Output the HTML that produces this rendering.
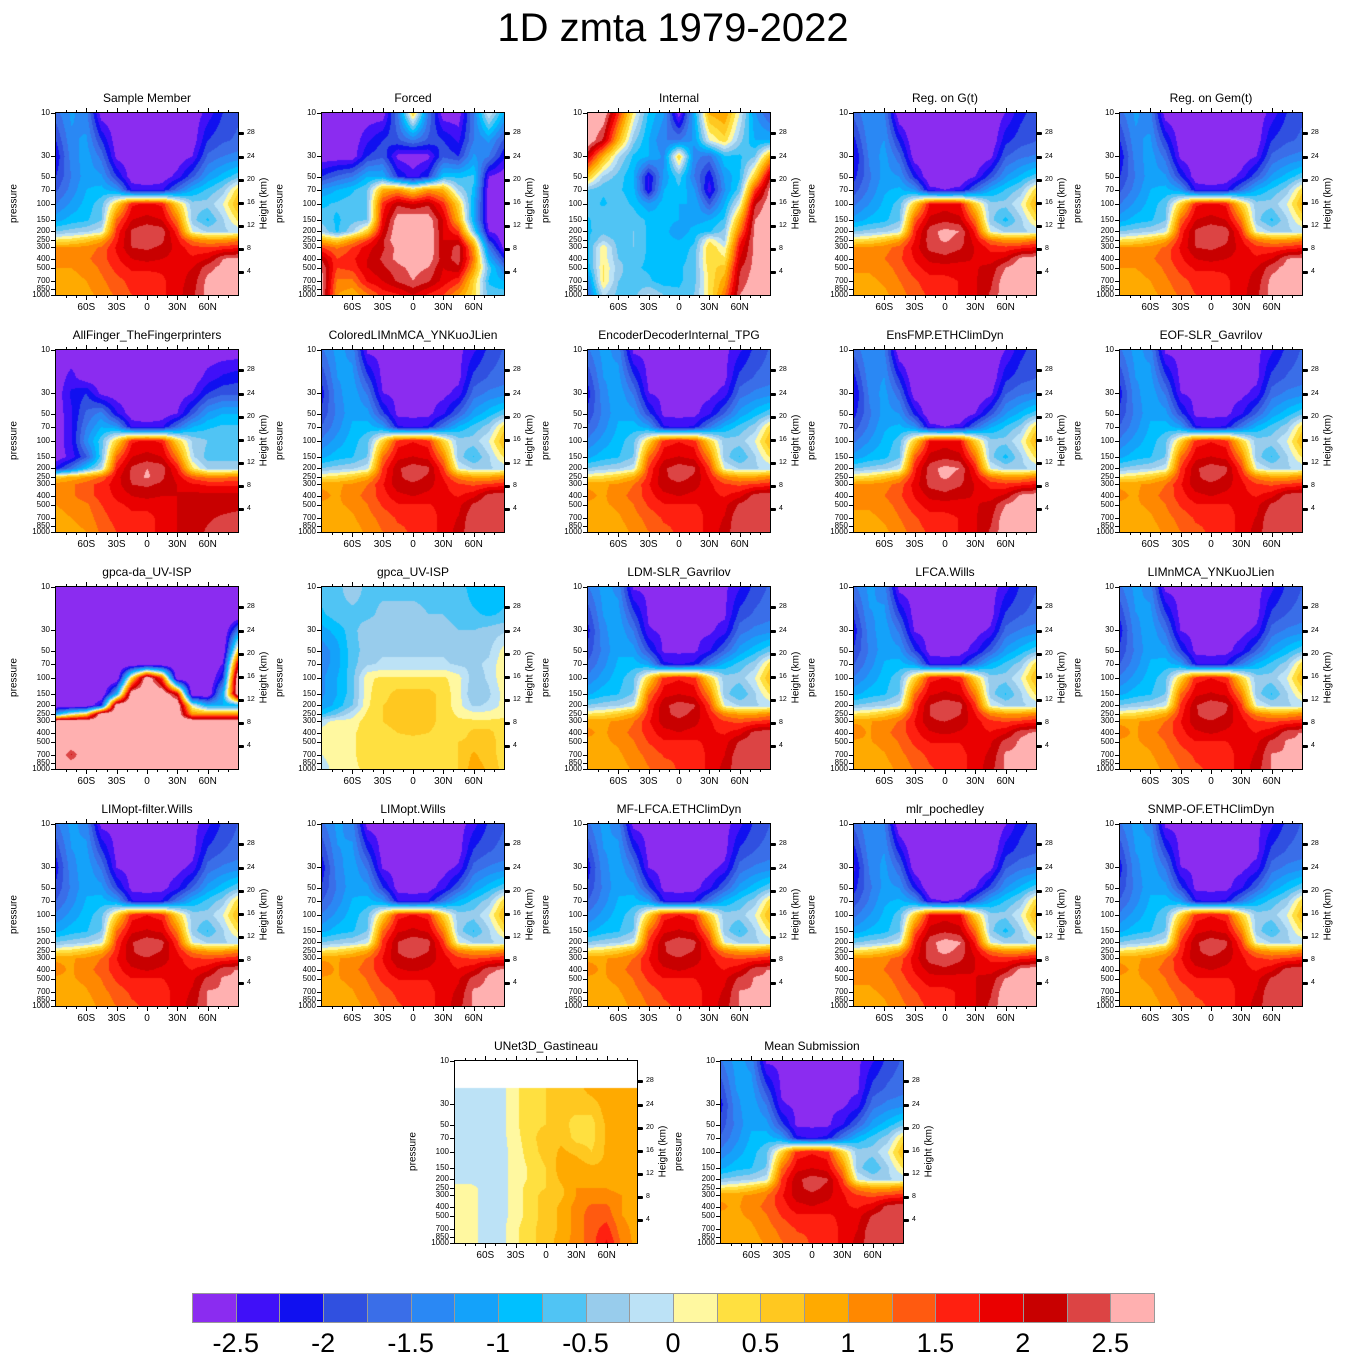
<!DOCTYPE html>
<html><head><meta charset="utf-8">
<style>
body{margin:0;background:#fff;width:1346px;height:1367px;position:relative;overflow:hidden;font-family:"Liberation Sans",sans-serif;}
#main-title{position:absolute;left:0;width:1346px;top:6px;text-align:center;font-size:40px;}
.panel{position:absolute;width:182px;height:182px;}
.panel canvas{position:absolute;left:0;top:0;}
.pt{position:absolute;top:-22px;left:-40px;width:262px;text-align:center;font-size:12px;}
.frame{position:absolute;left:-1px;top:-1px;width:182px;height:182px;border:1px solid #000;}
.lab{position:absolute;font-size:8px;white-space:nowrap;}
.xl{position:absolute;top:189px;font-size:10px;transform:translateX(-50%);}
.tk{position:absolute;background:#000;}
.yt{position:absolute;font-size:10px;transform:rotate(-90deg);transform-origin:center;white-space:nowrap;}
#colorbar{position:absolute;left:192px;top:1293px;width:962px;height:32px;}
.cb{position:absolute;top:0;height:30px;border:1px solid #999;box-sizing:border-box;}
.cbl{position:absolute;top:1328px;font-size:27px;transform:translateX(-50%);}
</style></head><body>
<div id="main-title">1D zmta 1979-2022</div>
<div id="root"></div>
<div id="colorbar"></div>
<script>
const colors=['#8b2cf0','#4010f8','#1010f0','#3050e0','#3a6ee8','#2a88f4','#14a2fa','#00c0ff','#50c4f4','#98ccec','#bce2f6','#fff8a0','#ffe040','#ffc820','#ffaa00','#ff8800','#ff5a10','#ff2010','#ea0000','#c80000','#dc4444','#ffb0b0'];
const cbLabels=['-2.5','-2','-1.5','-1','-0.5','0','0.5','1','1.5','2','2.5'];
const lats=[-90,-75,-60,-45,-30,-15,0,15,30,45,60,75,90];
const pres=[10,20,30,50,70,100,150,200,250,300,400,500,700,1000];
const typical=[
[-1.6,-1.2,-1.4,-2.7,-2.7,-2.7,-2.7,-2.7,-2.7,-2.7,-2.4,-2.0,-1.8],
[-2.0,-1.3,-1.2,-2.0,-2.7,-2.7,-2.7,-2.7,-2.7,-2.7,-2.0,-1.8,-1.7],
[-2.2,-1.4,-1.1,-1.6,-2.6,-2.7,-2.7,-2.7,-2.7,-2.5,-1.7,-1.5,-1.4],
[-2.0,-1.5,-1.1,-1.2,-2.0,-2.7,-2.7,-2.7,-2.4,-1.8,-1.2,-0.9,-0.6],
[-1.8,-1.4,-1.0,-0.9,-1.2,-2.3,-2.4,-2.3,-1.6,-1.0,-0.7,-0.4,0.4],
[-1.5,-1.2,-0.9,-0.6,0.5,1.7,1.8,1.7,0.5,-0.4,-0.4,0.0,0.8],
[-1.1,-0.9,-0.8,-0.5,1.3,2.0,2.1,2.0,1.2,-0.4,-0.8,-0.3,0.3],
[-0.5,-0.4,-0.3,-0.1,1.6,2.3,2.5,2.4,1.6,0.0,-0.3,-0.3,-0.2],
[0.3,0.4,0.6,0.9,1.7,2.3,2.45,2.3,1.8,1.2,1.0,1.0,1.2],
[1.0,1.0,1.1,1.3,1.8,2.25,2.3,2.2,1.9,1.6,1.5,1.6,1.7],
[1.1,1.0,1.2,1.4,1.7,2.0,2.1,2.0,1.9,1.8,2.0,2.5,2.6],
[1.0,1.0,1.1,1.3,1.6,1.8,1.8,1.8,1.9,2.0,2.4,2.6,2.6],
[0.9,0.9,1.0,1.2,1.4,1.6,1.6,1.7,1.9,2.1,2.6,2.6,2.6],
[0.8,0.8,0.9,1.1,1.3,1.5,1.6,1.7,1.9,2.2,2.6,2.6,2.6]];
const allFinger=[
[-2.7,-2.7,-2.7,-2.7,-2.7,-2.7,-2.7,-2.7,-2.7,-2.7,-2.7,-2.7,-2.7],
[-2.7,-2.4,-2.7,-2.7,-2.7,-2.7,-2.7,-2.7,-2.7,-2.7,-2.4,-2.2,-2.1],
[-2.7,-2.2,-2.0,-2.6,-2.7,-2.7,-2.7,-2.7,-2.7,-2.5,-2.0,-1.8,-1.8],
[-2.7,-2.3,-1.7,-1.4,-2.2,-2.7,-2.7,-2.7,-2.5,-1.8,-1.2,-1.0,-1.0],
[-2.7,-2.3,-1.5,-1.0,-1.2,-2.3,-2.4,-2.3,-1.6,-1.0,-0.8,-0.7,-0.7],
[-2.7,-2.3,-1.3,-0.6,0.5,1.7,1.8,1.7,0.5,-0.3,-0.5,-0.5,-0.5],
[-2.7,-2.4,-1.8,-0.6,1.3,2.0,2.1,2.0,1.2,-0.2,-0.6,-0.6,-0.6],
[-2.2,-1.6,-0.8,-0.2,1.7,2.3,2.5,2.4,1.7,0.3,-0.3,-0.3,-0.3],
[0.6,0.8,1.0,1.3,1.9,2.3,2.55,2.3,1.9,1.4,1.2,1.2,1.3],
[1.1,1.2,1.4,1.6,1.9,2.25,2.3,2.2,2.0,1.8,1.7,1.7,1.7],
[1.1,1.2,1.4,1.6,1.8,2.0,2.1,2.0,2.0,2.1,2.1,2.1,2.1],
[1.0,1.1,1.2,1.5,1.7,1.8,1.8,1.8,2.0,2.1,2.1,2.1,2.1],
[0.9,1.0,1.1,1.4,1.6,1.7,1.7,1.8,2.0,2.1,2.2,2.3,2.4],
[0.9,0.9,1.0,1.3,1.5,1.6,1.7,1.8,2.0,2.1,2.3,2.5,2.5]];
const forced=[
[-2.7,-2.7,-2.7,-2.7,-2.7,-1.5,0.5,-1.5,-2.7,-2.7,-1.5,0.0,-1.0],
[-2.7,-2.7,-2.7,-2.3,-2.0,-1.8,-1.5,-1.8,-2.0,-2.3,-1.5,-1.2,-1.8],
[-2.7,-2.7,-2.7,-2.0,-1.8,-2.6,-2.7,-2.6,-1.8,-2.0,-1.2,-1.5,-2.2],
[-2.0,-1.7,-1.5,-1.0,-1.0,-2.0,-2.4,-2.0,-0.8,-0.8,-0.7,-2.5,-2.7],
[-1.2,-1.0,-0.8,-0.5,0.8,1.0,0.5,1.0,0.8,-0.3,-0.8,-2.7,-2.7],
[-0.8,-0.7,-0.6,-0.5,1.6,2.2,2.0,2.2,1.6,0.5,-1.0,-2.7,-2.7],
[-0.6,-0.8,-0.6,-0.5,1.8,2.7,2.8,2.7,2.0,0.8,-1.0,-2.7,-2.7],
[-0.3,-0.8,-0.3,0.5,2.0,2.8,2.9,2.8,2.0,1.5,-0.5,-2.5,-2.7],
[0.8,0.5,1.0,1.5,2.2,2.8,2.9,2.8,2.0,2.0,0.5,-2.0,-2.7],
[1.5,1.2,1.5,1.9,2.2,2.6,2.9,2.8,2.0,2.4,1.0,-1.5,-2.6],
[2.2,1.5,1.7,2.0,2.3,2.6,2.9,2.7,2.1,2.4,1.2,-1.0,-2.0],
[2.5,1.5,1.6,2.0,2.2,2.4,2.6,2.5,2.0,2.2,1.0,-0.6,-1.5],
[2.6,1.2,1.2,1.8,2.0,2.3,2.5,2.3,1.9,1.6,0.5,-0.8,-1.0],
[2.6,1.0,0.8,1.2,1.6,1.7,2.0,1.7,1.5,1.0,0.4,-0.6,-0.6]];
const internal=[
[2.8,2.8,1.6,0.2,-0.8,-1.2,-2.7,-1.0,0.8,1.0,0.0,-1.2,-1.8],
[2.8,2.2,0.8,-0.4,-1.0,-1.5,-1.5,-1.2,0.0,0.4,-0.4,-1.0,-1.0],
[2.0,0.8,-0.2,-0.8,-1.0,-1.3,0.5,-1.4,-1.6,-0.8,-0.8,-0.5,0.8],
[0.6,-0.3,-0.6,-1.0,-2.3,-1.2,-0.6,-1.5,-2.2,-1.2,-0.8,0.5,2.2],
[-0.5,-0.7,-0.7,-0.9,-2.3,-1.0,-0.8,-1.2,-2.4,-1.3,-0.6,1.5,2.6],
[-0.6,-0.8,-0.6,-0.8,-1.2,-0.9,-1.0,-1.0,-1.8,-1.0,0.0,2.2,2.7],
[-0.8,-0.5,-0.5,-0.6,-0.8,-0.9,-1.0,-1.1,-1.0,-0.7,0.8,2.5,2.8],
[-0.8,-0.6,-0.7,-0.5,-0.8,-0.9,-1.2,-0.9,-0.8,-0.4,1.2,2.6,2.8],
[-0.8,-0.3,-0.6,-0.5,-0.8,-0.9,-1.0,-0.8,0.2,-0.3,1.6,2.6,2.8],
[-0.8,0.2,-0.6,-0.5,-0.8,-0.8,-0.9,-0.7,0.5,0.0,1.8,2.6,2.8],
[-0.8,0.2,-0.5,-0.6,-0.8,-0.8,-0.9,-0.6,0.5,0.3,2.0,2.6,2.8],
[-0.9,0.3,-0.4,-0.7,-0.8,-0.9,-0.8,-0.6,0.4,0.6,2.2,2.6,2.8],
[-1.3,0.3,-0.5,-0.6,-0.7,-0.9,-0.8,-0.6,0.3,0.9,2.3,2.7,2.8],
[-1.6,-0.2,-0.6,-0.6,-0.2,-0.5,-0.7,-0.5,0.3,1.2,2.5,2.8,2.8]];
const gpcaDa=[
[-3,-3,-3,-3,-3,-3,-3,-3,-3,-3,-3,-3,-3],
[-3,-3,-3,-3,-3,-3,-3,-3,-3,-3,-3,-3,-3],
[-3,-3,-3,-3,-3,-3,-3,-3,-3,-3,-3,-3,-1.5],
[-3,-3,-3,-3,-3,-3,-3,-3,-3,-3,-3,-3,0.5],
[-3,-3,-3,-3,-3,-3,-3,-3,-3,-3,-3,-2.5,2],
[-3,-3,-3,-3,-3,0.5,3,1.5,-3,-3,-3,-2,3],
[-3,-3,-3,-3,-1,3,3,3,2,-3,-3,-1,3],
[-3,-3,-3,-2,3,3,3,3,3,0,-1,-1,-1],
[-1,0,0.5,3,3,3,3,3,3,1,1,1,1],
[3,3,3,3,3,3,3,3,3,3,3,3,3],
[3,3,3,3,3,3,3,3,3,3,3,3,3],
[3,3,3,3,3,3,3,3,3,3,3,3,3],
[3,2.2,3,3,3,3,3,3,3,3,3,3,3],
[3,3,3,3,3,3,3,3,3,3,3,3,3]];
const gpcaUV=[
[-0.6,-0.6,-0.3,-0.6,-0.6,-0.6,-0.6,-0.6,-0.6,-0.6,-0.9,-1.0,-0.9],
[-0.8,-0.6,-0.6,-0.6,-0.4,-0.4,-0.4,-0.5,-0.5,-0.6,-0.7,-0.8,-0.7],
[-1.1,-0.9,-0.6,-0.3,-0.3,-0.3,-0.3,-0.3,-0.4,-0.5,-0.5,-0.4,-0.3],
[-1.4,-1.1,-0.6,-0.4,-0.3,-0.3,-0.3,-0.3,-0.3,-0.4,-0.4,-0.3,0.1],
[-1.4,-1.1,-0.6,-0.3,-0.2,-0.2,-0.2,-0.2,-0.2,-0.3,-0.3,-0.2,0.2],
[-1.3,-1.0,-0.6,0.2,0.3,0.3,0.3,0.3,0.3,0.1,-0.4,-0.2,0.2],
[-1.3,-1.0,-0.6,0.2,0.4,0.6,0.6,0.6,0.4,0.1,-0.5,-0.3,0.1],
[-1.2,-0.9,-0.5,0.2,0.5,0.6,0.6,0.6,0.4,0.1,-0.3,-0.2,0.1],
[-0.8,-0.5,-0.1,0.3,0.5,0.6,0.6,0.6,0.4,0.2,0.1,0.1,0.2],
[-0.1,0.1,0.1,0.4,0.5,0.6,0.6,0.6,0.4,0.3,0.3,0.3,0.3],
[0.1,0.2,0.2,0.4,0.4,0.5,0.55,0.5,0.4,0.3,0.6,0.6,0.3],
[0.1,0.2,0.2,0.4,0.4,0.4,0.4,0.4,0.4,0.5,0.6,0.6,0.4],
[0.0,0.1,0.2,0.4,0.4,0.4,0.4,0.4,0.4,0.5,0.8,0.6,0.4],
[-0.1,0.1,0.2,0.3,0.4,0.4,0.4,0.4,0.4,0.5,0.9,0.7,0.4]];
const unet=[
[null,null,null,null,null,null,null,null,null,null,null,null,null],
[-0.1,-0.1,-0.1,-0.1,0.2,0.4,0.5,0.5,0.6,0.9,1.0,0.9,0.9],
[-0.1,-0.1,-0.1,-0.1,0.2,0.4,0.5,0.5,0.6,0.6,0.9,0.9,0.9],
[-0.1,-0.1,-0.1,-0.1,0.2,0.45,0.5,0.6,0.4,0.4,0.8,0.9,0.9],
[-0.1,-0.1,-0.1,-0.1,0.15,0.45,0.6,0.7,0.4,0.4,0.8,0.9,0.9],
[-0.1,-0.1,-0.1,-0.1,0.1,0.4,0.6,0.8,0.7,0.5,0.8,0.9,0.9],
[-0.1,-0.1,-0.1,-0.1,0.1,0.3,0.5,0.9,0.9,0.8,0.8,0.9,0.9],
[-0.1,-0.1,-0.1,-0.1,0.1,0.3,0.5,0.8,0.9,0.9,0.9,0.9,0.9],
[0.1,0.1,-0.1,-0.1,0.1,0.4,0.5,0.7,1.0,1.0,1.0,0.9,0.9],
[0.1,0.1,-0.1,-0.1,0.1,0.4,0.6,0.7,1.0,1.1,1.1,1.0,0.9],
[0.1,0.1,-0.1,-0.1,0.1,0.4,0.6,0.8,1.1,1.3,1.3,1.0,0.9],
[0.1,0.1,-0.1,-0.1,0.1,0.4,0.6,0.8,1.1,1.4,1.4,1.0,0.9],
[0.1,0.1,-0.1,-0.1,0.2,0.45,0.6,0.8,1.1,1.4,1.6,1.1,0.9],
[0.1,0.1,-0.1,-0.1,0.2,0.45,0.6,0.9,1.1,1.4,1.8,1.2,0.9]];
const panelNames=['Sample Member','Forced','Internal','Reg. on G(t)','Reg. on Gem(t)','AllFinger_TheFingerprinters','ColoredLIMnMCA_YNKuoJLien','EncoderDecoderInternal_TPG','EnsFMP.ETHClimDyn','EOF-SLR_Gavrilov','gpca-da_UV-ISP','gpca_UV-ISP','LDM-SLR_Gavrilov','LFCA.Wills','LIMnMCA_YNKuoJLien','LIMopt-filter.Wills','LIMopt.Wills','MF-LFCA.ETHClimDyn','mlr_pochedley','SNMP-OF.ETHClimDyn','UNet3D_Gastineau','Mean Submission'];
const panelFields=['typical','forced','internal','typical','typical','allFinger','typical','typical','typical','typical','gpcaDa','gpcaUV','typical','typical','typical','typical','typical','typical','typical','typical','unet','typical'];
const panelScale=[1,1,1,1.04,1,1,0.96,0.96,1.04,0.96,1,1,0.95,0.98,0.97,0.97,0.98,0.97,1.05,0.96,1,0.95];
const fields={typical,allFinger,forced,internal,gpcaDa,gpcaUV,unet};
const pTicks=[10,30,50,70,100,150,200,250,300,400,500,700,850,1000];
const zTicks=[4,8,12,16,20,24,28];
const latTicks=[-60,-30,0,30,60];
const latLabels=['60S','30S','0','30N','60N'];
const colX=[56,322,588,854,1120], rowY=[113,350,587,824];
const W=182,H=182;
function yOfP(p){return (Math.log10(p)-1)/2*H;}
function xOfLat(l){return (l+90)/180*W;}
const lps=pres.map(Math.log10);
function interp(f,lat,lp){
 let i=0;while(i<lats.length-2&&lat>lats[i+1])i++;
 let j=0;while(j<lps.length-2&&lp>lps[j+1])j++;
 const tx=Math.max(0,Math.min(1,(lat-lats[i])/(lats[i+1]-lats[i]))), ty=Math.max(0,Math.min(1,(lp-lps[j])/(lps[j+1]-lps[j])));
 const a=f[j][i],b=f[j][i+1],c=f[j+1][i],d=f[j+1][i+1];
 if(a===null||b===null) return null;
 return (a*(1-tx)+b*tx)*(1-ty)+(c*(1-tx)+d*tx)*ty;
}
function hexRgb(h){return [parseInt(h.substr(1,2),16),parseInt(h.substr(3,2),16),parseInt(h.substr(5,2),16)];}
const rgb=colors.map(hexRgb);
const root=document.getElementById('root');
panelNames.forEach((name,k)=>{
 let px,py;
 if(k<20){px=colX[k%5];py=rowY[Math.floor(k/5)];}else{px=[455,721][k-20];py=1061;}
 const slug=name.toLowerCase().replace(/[^a-z0-9]+/g,'-').replace(/^-|-$/g,'');
 const d=document.createElement('div');d.className='panel';d.style.left=px+'px';d.style.top=py+'px';
 
 
 const cv=document.createElement('canvas');cv.width=W;cv.height=H;
 
 
 const ctx=cv.getContext('2d');const img=ctx.createImageData(W,H);
 const f=fields[panelFields[k]], s=panelScale[k];
 for(let y=0;y<H;y++){const lp=1+2*(y+0.5)/H;
  for(let x=0;x<W;x++){const lat=-90+180*(x+0.5)/W;
   let v=interp(f,lat,lp);const o=(y*W+x)*4;
   if(v===null){img.data[o]=255;img.data[o+1]=255;img.data[o+2]=255;img.data[o+3]=255;continue;}
   v*=s;let ci=Math.floor((v+2.5)/0.25)+1;ci=Math.max(0,Math.min(21,ci));
   const c=rgb[ci];img.data[o]=c[0];img.data[o+1]=c[1];img.data[o+2]=c[2];img.data[o+3]=255;}}
 ctx.putImageData(img,0,0);d.appendChild(cv);
 const fr=document.createElement('div');fr.className='frame';
 
 
 d.appendChild(fr);
 const t=document.createElement('div');t.className='pt';t.textContent=name;
 
 
 d.appendChild(t);
 pTicks.forEach(p=>{const y=yOfP(p);
  const l=document.createElement('div');l.className='lab';l.textContent=p;
  l.style.right=(W+6)+'px';l.style.top=(y-5)+'px';
  
  
  d.appendChild(l);
  const tk=document.createElement('div');tk.className='tk';tk.style.left='-5px';tk.style.top=y+'px';tk.style.width='5px';tk.style.height='1px';
  
  
  d.appendChild(tk);});
 zTicks.forEach(z=>{const p=1000*Math.exp(-z/6.85);const y=yOfP(p);
  const l=document.createElement('div');l.className='lab';l.textContent=z;l.style.fontSize='7px';
  l.style.left=(W+9)+'px';l.style.top=(y-4)+'px';
  
  
  d.appendChild(l);
  const tk=document.createElement('div');tk.className='tk';tk.style.left=(W)+'px';tk.style.top=(y-1)+'px';tk.style.width='6px';tk.style.height='3px';tk.style.borderRadius='1px';
  
  
  d.appendChild(tk);});
 latTicks.forEach((lt,i)=>{const x=xOfLat(lt);
  const l=document.createElement('div');l.className='xl';l.textContent=latLabels[i];l.style.left=x+'px';
  
  
  d.appendChild(l);
  for(const top of [-5,H]){const tk=document.createElement('div');tk.className='tk';tk.style.left=x+'px';tk.style.top=top+'px';tk.style.width='1px';tk.style.height='5px';
  
  
  d.appendChild(tk);}});
 for(let lt=-80;lt<=80;lt+=10){if(lt%30===0)continue;const x=xOfLat(lt);for(const top of [-3,H]){const tk=document.createElement('div');tk.className='tk';tk.style.left=x+'px';tk.style.top=top+'px';tk.style.width='1px';tk.style.height='3px';
  
  
  d.appendChild(tk);}}
 const yl=document.createElement('div');yl.className='yt';yl.textContent='pressure';yl.style.left='-62px';yl.style.top='85px';yl.style.width='40px';yl.style.textAlign='center';
 
 
 d.appendChild(yl);
 const yr=document.createElement('div');yr.className='yt';yr.textContent='Height (km)';yr.style.left=(W-4)+'px';yr.style.top='85px';yr.style.width='60px';yr.style.textAlign='center';
 
 
 d.appendChild(yr);
 root.appendChild(d);
});
const cb=document.getElementById('colorbar');const bw=962/22;
colors.forEach((c,i)=>{const b=document.createElement('div');b.className='cb';b.style.left=(i*bw)+'px';b.style.width=(bw+1)+'px';b.style.background=c;
 
 
 cb.appendChild(b);});
cbLabels.forEach((t,i)=>{const l=document.createElement('div');l.className='cbl';l.textContent=t;l.style.left=(192+bw*(1+2*i))+'px';
 
 
 document.body.appendChild(l);});
</script>
</body></html>
